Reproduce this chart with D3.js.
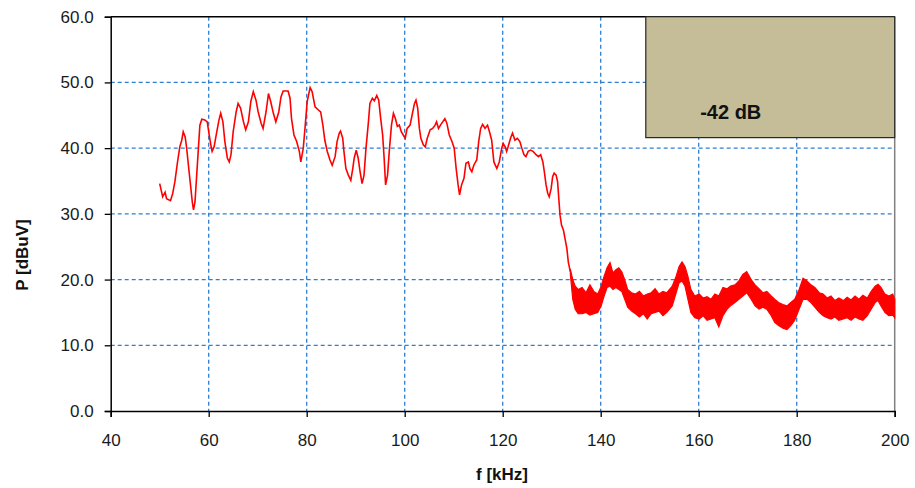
<!DOCTYPE html>
<html>
<head>
<meta charset="utf-8">
<script src="https://cdn.jsdelivr.net/npm/d3@7/dist/d3.min.js"></script>
<style>
    body { margin: 0; background: #fff; }
    svg text { font-family: "Liberation Sans", Arial, sans-serif; fill: #1a1a1a; }
</style>
</head>
<body>
<div id="chart"></div>
<script>
// tick values
const xTicks = [40, 60, 80, 100, 120, 140, 160, 180, 200];
const yTicks = [0, 10, 20, 30, 40, 50, 60];

// smooth part of the trace (kHz, dBuV)
const lineFreq = [
    50.0, 50.6, 51.1, 51.4, 52.2, 52.65, 53.1, 53.6, 54.1, 54.5, 54.8, 55.2, 55.5, 56.0, 56.4, 56.65, 56.9, 57.2, 57.55, 57.9,
    58.2, 58.6, 59.2, 59.7, 60.1, 60.5, 60.7, 61.1, 61.6, 62.1, 62.45, 62.9, 63.3, 63.8, 64.2, 64.55, 65.0, 65.6, 66.0, 66.5,
    67.1, 67.55, 68.1, 68.6, 69.1, 69.65, 70.1, 70.7, 71.1, 71.7, 72.2, 72.65, 73.2, 73.7, 74.3, 74.75, 75.2, 76.2, 76.6, 76.9,
    77.4, 77.95, 78.5, 78.8, 79.3, 79.65, 80.1, 80.7, 81.1, 81.7, 82.4, 82.85, 83.3, 83.7, 84.2, 84.75, 85.2, 85.8, 86.2, 86.65,
    86.9, 87.35, 87.6, 88.0, 88.5, 89.0, 89.4, 89.7, 90.1, 90.5, 90.9, 91.3, 91.7, 92.1, 92.6, 92.9, 93.4, 93.8, 94.3, 94.7,
    95.1, 95.5, 95.8, 96.1, 96.5, 96.85, 97.3, 97.7, 98.1, 98.5, 98.9, 99.3, 99.7, 100.1, 100.5, 101.1, 101.5, 102.0, 102.3, 102.65,
    103.0, 103.3, 103.8, 104.2, 104.6, 105.2, 105.7, 106.2, 106.5, 106.9, 107.3, 107.75, 108.2, 108.6, 109.1, 109.65, 110.1, 110.5, 110.9, 111.2,
    111.6, 112.1, 112.5, 113.0, 113.3, 113.7, 114.1, 114.7, 115.1, 115.5, 115.9, 116.4, 116.9, 117.3, 117.75, 118.2, 118.8, 119.3, 119.8, 120.1,
    120.5, 120.8, 121.1, 121.6, 122.0, 122.5, 123.0, 123.5, 123.9, 124.35, 124.75, 125.2, 125.7, 126.2, 126.8, 127.3, 127.75, 128.2, 128.5, 128.85,
    129.2, 129.5, 129.9, 130.2, 130.5, 130.9, 131.2, 131.5, 131.7, 132.0, 132.4, 132.7, 133.1, 133.4, 133.8
];
const lineLevel = [
    34.6, 32.6, 33.3, 32.3, 32.0, 33.1, 34.9, 37.7, 40.2, 41.2, 42.5, 41.7, 40.0, 36.4, 33.6, 31.8, 30.6, 31.8, 35.9, 40.0,
    43.5, 44.4, 44.3, 44.0, 42.0, 40.2, 39.5, 40.2, 42.3, 44.3, 45.3, 44.0, 41.0, 38.5, 37.9, 39.0, 42.5, 45.5, 46.8, 46.1,
    44.0, 42.8, 44.0, 47.1, 48.6, 47.3, 45.5, 43.8, 43.0, 45.5, 48.3, 47.1, 45.3, 44.0, 45.5, 47.8, 48.7, 48.7, 47.6, 44.5,
    42.0, 41.0, 39.5, 37.9, 40.0, 43.0, 47.1, 49.2, 48.6, 46.3, 45.8, 45.5, 43.5, 41.2, 39.5, 38.2, 37.4, 38.7, 41.0, 42.3,
    42.6, 41.5, 39.5, 36.9, 35.9, 35.1, 36.9, 38.5, 39.7, 38.5, 36.4, 34.6, 35.9, 40.0, 44.0, 46.8, 47.6, 47.2, 48.0, 47.3,
    44.5, 42.0, 38.5, 34.4, 35.9, 39.5, 43.5, 45.3, 44.5, 43.3, 43.5, 42.5, 42.0, 41.5, 43.0, 43.5, 45.0, 46.8, 47.3, 46.1,
    43.0, 41.5, 40.5, 40.2, 41.5, 42.8, 43.0, 43.5, 44.0, 43.0, 43.5, 44.0, 44.5, 43.8, 42.0, 41.0, 40.0, 36.9, 34.4, 32.9,
    34.4, 35.4, 37.7, 37.9, 36.9, 36.4, 37.4, 38.2, 41.0, 43.0, 43.6, 43.0, 43.5, 42.5, 41.2, 37.9, 36.9, 37.9, 40.0, 40.7,
    40.2, 39.5, 40.2, 41.5, 42.3, 41.2, 41.5, 41.0, 40.0, 39.0, 38.7, 39.5, 39.7, 39.5, 39.0, 38.7, 39.0, 37.9, 36.4, 34.4,
    33.1, 32.6, 33.9, 35.7, 36.2, 35.9, 34.9, 31.8, 29.8, 28.3, 27.5, 26.3, 24.7, 22.6, 21.2
];

// noisy part of the trace: lower / upper envelope (kHz, dBuV)
const bandFreq = [
    133.8, 134.3, 134.8, 135.4, 136.2, 137.0, 137.8, 138.6, 139.4, 140.1, 140.7, 141.3, 141.9, 142.5, 143.1, 143.7, 144.3, 144.9, 145.5, 146.3,
    147.1, 147.9, 148.7, 149.5, 150.3, 151.1, 151.9, 152.7, 153.5, 154.6, 155.4, 156.0, 156.6, 157.2, 157.8, 158.4, 159.2, 160.1, 160.9, 161.7,
    162.5, 163.3, 164.1, 164.95, 165.8, 166.5, 167.4, 168.2, 169.0, 169.8, 170.7, 171.5, 172.3, 173.1, 173.9, 174.8, 175.5, 176.3, 177.2, 178.0,
    178.8, 179.6, 180.5, 181.3, 182.1, 182.9, 183.7, 184.6, 185.4, 186.2, 187.0, 187.8, 188.6, 189.5, 190.3, 191.1, 191.9, 192.7, 193.5, 194.4,
    195.2, 196.0, 196.6, 197.2, 198.0, 198.8, 199.6, 200.0
];
const bandLow = [
    20.8, 17.0, 15.5, 14.8, 14.8, 15.0, 14.6, 14.8, 15.0, 16.0, 17.5, 18.8, 19.0, 18.5, 18.8, 18.5, 18.2, 17.0, 15.8, 15.2,
    14.8, 14.3, 14.8, 14.0, 14.8, 15.0, 15.2, 14.5, 15.0, 16.0, 18.0, 19.5, 19.8, 19.0, 17.0, 15.0, 14.2, 14.0, 14.5, 13.8,
    14.0, 14.2, 12.8, 14.5, 15.5, 16.0, 16.5, 17.0, 17.5, 18.0, 17.0, 16.0, 15.5, 15.8, 15.5, 14.5, 13.5, 13.0, 12.6, 12.4,
    13.0, 13.8, 15.5, 17.0, 17.0, 16.5, 15.8, 15.0, 14.5, 14.2, 14.0, 14.3, 13.8, 14.0, 14.2, 13.8, 14.3, 14.0, 13.8, 14.5,
    15.5, 16.5, 16.8, 16.0, 15.0, 14.5, 14.6, 14.2
];
const bandHigh = [
    21.6, 20.0, 19.0, 18.5, 18.8, 18.0, 19.2, 18.2, 17.8, 19.0, 20.5, 21.8, 22.6, 21.0, 21.5, 21.8, 21.2, 20.0, 18.5, 18.0,
    17.8, 18.2, 17.5, 17.8, 18.0, 18.6, 17.8, 18.2, 18.0, 19.0, 20.5, 22.0, 22.7, 22.0, 20.5, 18.5, 17.5, 17.8, 17.2, 17.4,
    17.0, 17.8, 17.5, 18.8, 18.6, 19.0, 19.2, 19.8, 20.8, 21.2, 20.0, 19.2, 18.6, 18.0, 18.2, 17.5, 17.0, 16.5, 16.2, 16.0,
    16.5, 17.0, 18.5, 20.2, 19.8, 19.2, 18.8, 18.0, 17.8, 17.2, 17.5, 16.8, 17.2, 16.8, 17.3, 16.9, 17.5, 17.0, 17.6, 17.2,
    18.2, 19.0, 19.3, 18.8, 17.8, 17.5, 17.8, 17.0
];

// attenuation note in the upper right corner
const noteLabel = "-42 dB";
const noteFreq = [149.2, 200];
const noteLevel = [41.6, 60];

const margin = { top: 16.7, right: 20.3, bottom: 77, left: 110.7 };
const width = 915 - margin.left - margin.right;
const height = 488 - margin.top - margin.bottom;

const svg = d3.select("#chart")
    .append("svg")
    .attr("width", 915)
    .attr("height", 488);

const g = svg.append("g")
    .attr("transform", `translate(${margin.left},${margin.top})`);

const x = d3.scaleLinear().domain([40, 200]).range([0, width]);
const y = d3.scaleLinear().domain([0, 60]).range([height, 0]);

// grid
g.selectAll(".hgrid")
    .data(yTicks.filter(d => d > 0 && d < 60))
    .enter().append("line")
    .attr("x1", 0).attr("x2", width)
    .attr("y1", d => y(d)).attr("y2", d => y(d))
    .style("stroke", "#2f7fd0")
    .style("stroke-width", 1.3)
    .style("stroke-dasharray", "4,3");

g.selectAll(".vgrid")
    .data(xTicks.filter(d => d > 40 && d < 200))
    .enter().append("line")
    .attr("x1", d => x(d)).attr("x2", d => x(d))
    .attr("y1", 0).attr("y2", height)
    .style("stroke", "#2f7fd0")
    .style("stroke-width", 1.3)
    .style("stroke-dasharray", "4,3");

// frame: top black, right grey
g.append("line")
    .attr("x1", 0).attr("x2", width)
    .attr("y1", 0).attr("y2", 0)
    .style("stroke", "#000").style("stroke-width", 1.5);
g.append("line")
    .attr("x1", width).attr("x2", width)
    .attr("y1", 0).attr("y2", height)
    .style("stroke", "#808080").style("stroke-width", 1.5);

// note box
g.append("rect")
    .attr("x", x(noteFreq[0]))
    .attr("y", y(noteLevel[1]))
    .attr("width", x(noteFreq[1]) - x(noteFreq[0]))
    .attr("height", y(noteLevel[0]) - y(noteLevel[1]))
    .style("fill", "#c4bd97")
    .style("stroke", "#262626")
    .style("stroke-width", 1.2);

g.append("text")
    .attr("x", x(160.3))
    .attr("y", y(44.5))
    .style("font-size", "20px")
    .style("font-weight", "bold")
    .style("fill", "#111")
    .text(noteLabel);

// trace
const band = bandFreq.map((f, i) => ({ f, lo: bandLow[i], hi: bandHigh[i] }));
const trace = lineFreq.map((f, i) => ({ f, p: lineLevel[i] }));

g.append("path")
    .datum(band)
    .attr("d", d3.area()
        .x(d => x(d.f))
        .y0(d => y(d.lo))
        .y1(d => y(d.hi)))
    .style("fill", "#ff0000")
    .style("stroke", "#ff0000")
    .style("stroke-width", 1.2);

g.append("path")
    .datum(trace)
    .attr("d", d3.line()
        .x(d => x(d.f))
        .y(d => y(d.p)))
    .style("fill", "none")
    .style("stroke", "#ff0000")
    .style("stroke-width", 1.6);

// axes
const xAxis = g.append("g")
    .attr("transform", `translate(0,${height})`)
    .call(d3.axisBottom(x).tickValues(xTicks).tickSize(6).tickPadding(17).tickFormat(d3.format("d")));

const yAxis = g.append("g")
    .call(d3.axisLeft(y).tickValues(yTicks).tickSize(6).tickPadding(11).tickFormat(d3.format(".1f")));

[xAxis, yAxis].forEach(a => {
    a.select(".domain").style("stroke", "#000").style("stroke-width", 1.5);
    a.selectAll(".tick line").style("stroke", "#000").style("stroke-width", 1.3);
    a.selectAll(".tick text")
        .style("font-size", "17px")
        .style("font-family", "'Liberation Sans', Arial, sans-serif")
        .style("fill", "#1a1a1a");
});

// axis titles
svg.append("text")
    .attr("transform", "translate(28,255) rotate(-90)")
    .attr("text-anchor", "middle")
    .style("font-size", "17px")
    .style("font-weight", "bold")
    .style("fill", "#111")
    .text("P [dBuV]");

svg.append("text")
    .attr("x", 502)
    .attr("y", 480)
    .attr("text-anchor", "middle")
    .style("font-size", "17px")
    .style("font-weight", "bold")
    .style("fill", "#111")
    .text("f [kHz]");
</script>
</body>
</html>
